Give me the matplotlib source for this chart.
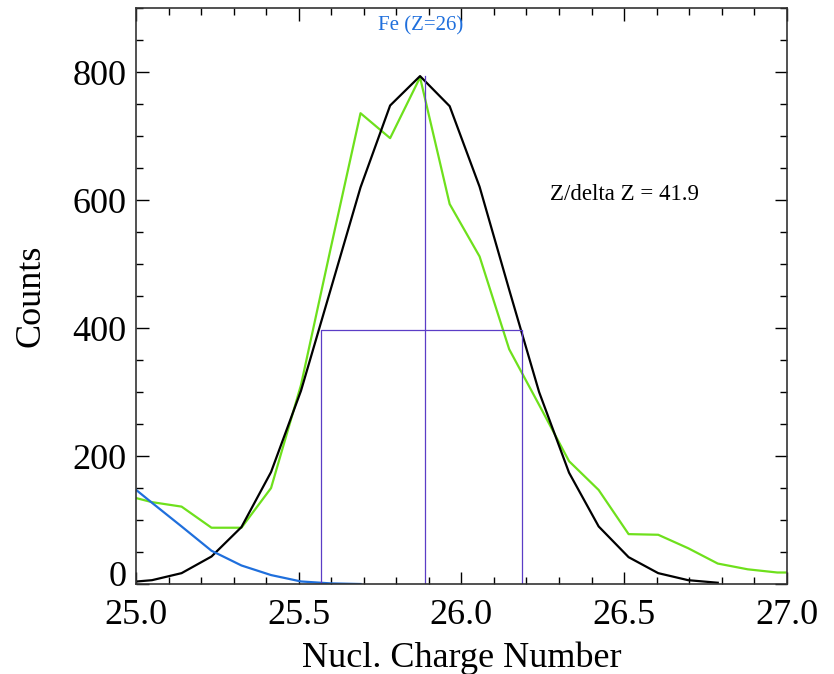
import matplotlib
matplotlib.use("Agg")
import matplotlib.pyplot as plt
from matplotlib.ticker import MultipleLocator, FormatStrFormatter
from matplotlib.transforms import ScaledTranslation

plt.rcParams['font.family'] = ['Liberation Serif', 'DejaVu Serif']

# bin centres (nuclear charge)
zbin = [24.957, 25.049, 25.140, 25.232, 25.324, 25.415, 25.507, 25.598,
        25.690, 25.781, 25.873, 25.964, 26.056, 26.147, 26.239, 26.331,
        26.422, 26.514, 26.605, 26.697, 26.788, 26.880, 26.971, 27.063]

# measured counts (green)
counts = [140, 128, 121, 88, 88, 150, 311, 524, 736, 697, 792, 594,
          512, 367, 280, 192, 147, 78, 77, 56, 32, 23, 18, 18]

# gaussian fit (black)
fit = [2, 6, 17, 43, 89, 175, 302, 460, 620, 748, 794, 747, 621, 460,
       300, 174, 90, 42, 17, 6, 2]

# tail of the lower charge peak (blue)
low_tail = [165, 127, 90, 52, 29, 14, 4, 1, 0]

# FWHM markers
z_peak = 25.888
peak_h = 794
half_h = 397
z_left = 25.568
z_right = 26.187

fig = plt.figure(figsize=(8.34, 6.74), dpi=100)
ax = fig.add_axes([0.1631, 0.1335, 0.7802, 0.8542])

ax.plot(zbin[:len(counts)], counts, color='#6ee01c', lw=1.6)
ax.plot(zbin[:len(fit)], fit, color='black', lw=1.6)
ax.plot(zbin[:len(low_tail)], low_tail, color='#1f6fdc', lw=1.6)

purple = '#5b3dc6'
ax.plot([z_peak, z_peak], [0, peak_h], color=purple, lw=0.9)
ax.plot([z_left, z_left, z_right, z_right], [0, half_h, half_h, 0], color=purple, lw=0.9)

ax.text(25.875, 873, 'Fe (Z=26)', color='#1f6fdc', fontsize=15, ha='center', va='center')
ax.text(26.272, 609, 'Z/delta Z = 41.9', color='black', fontsize=16.5, ha='left', va='center')

ax.set_xlim(25.0, 27.0)
ax.set_ylim(0, 900)
ax.xaxis.set_major_locator(MultipleLocator(0.5))
ax.xaxis.set_minor_locator(MultipleLocator(0.1))
ax.yaxis.set_minor_locator(MultipleLocator(50))
ax.set_yticks([0, 200, 400, 600, 800])
ax.xaxis.set_major_formatter(FormatStrFormatter('%.1f'))

ax.tick_params(which='both', direction='in', top=True, right=True, labelsize=26, width=1.0)
ax.tick_params(which='major', length=9)
ax.tick_params(which='minor', length=5)
ax.tick_params(axis='x', which='major', pad=11)
ax.tick_params(axis='y', which='major', pad=7)
for s in ax.spines.values():
    s.set_linewidth(1.2)
    s.set_color('#333333')

ax.set_xlabel('Nucl. Charge Number', fontsize=26)
ax.set_ylabel('Counts', fontsize=26)
ax.xaxis.label.set_va('baseline')
ax.xaxis.set_label_coords(0.5, -0.144)
ax.yaxis.label.set_va('center')
ax.yaxis.set_label_coords(-0.161, 0.5)

# the "0" label sits a little above its tick in the original
fig.canvas.draw()
lbl0 = ax.yaxis.get_major_ticks()[0].label1
lbl0.set_transform(lbl0.get_transform() + ScaledTranslation(0, 0.11, fig.dpi_scale_trans))

fig.savefig('out.png', dpi=100)
